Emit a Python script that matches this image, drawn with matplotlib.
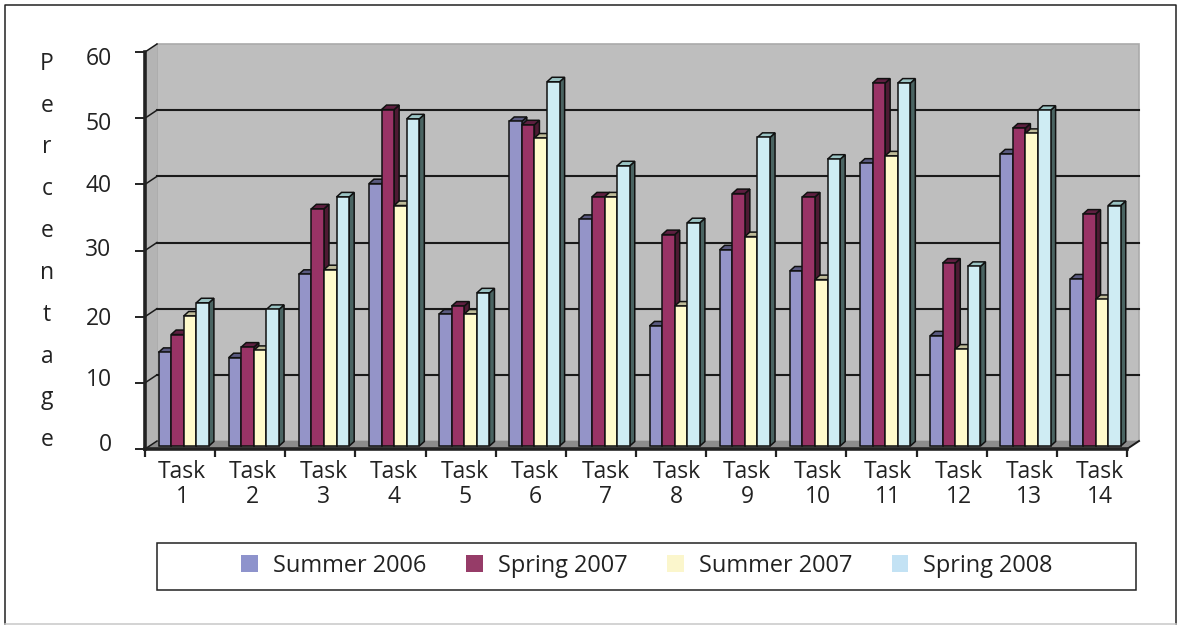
import matplotlib
matplotlib.use("Agg")
import matplotlib.pyplot as plt
from matplotlib.patches import Polygon, Rectangle, Patch
from matplotlib.transforms import ScaledTranslation
from matplotlib.lines import Line2D

W, H = 1178, 626
categories = [f"Task\n{i}" for i in range(1, 15)]
series_names = ["Summer 2006", "Spring 2007", "Summer 2007", "Spring 2008"]
summer_2006 = [14.6, 13.8, 26.4, 40.1, 20.4, 49.5, 34.7, 18.6, 30.1, 26.9, 43.2, 17.1, 44.6, 25.7]
spring_2007 = [17.3, 15.4, 36.3, 51.3, 21.6, 49.0, 38.1, 32.4, 38.6, 38.1, 55.3, 28.1, 48.5, 35.5]
summer_2007 = [20.1, 14.9, 27.1, 36.8, 20.4, 47.0, 38.1, 21.6, 32.1, 25.6, 44.3, 15.1, 47.7, 22.6]
spring_2008 = [22.1, 21.1, 38.1, 49.9, 23.6, 55.5, 42.8, 34.2, 47.1, 43.8, 55.3, 27.6, 51.2, 36.8]
series = [summer_2006, spring_2007, summer_2007, spring_2008]
fronts = ["#9494C8", "#993366", "#FFFBCC", "#CFECF3"]
sides = ["#4A4A64", "#4D1A33", "#807E66", "#4A6462"]
tops = ["#5A5A80", "#5E1F40", "#BFBC99", "#9BC4C4"]
legend_colors = ["#8E93CC", "#963C68", "#FBF6CC", "#C3E2F4"]
y_letters = "P\ne\nr\nc\ne\nn\nt\na\ng\ne"
ytick_lift = [7, 6, 1, 3, 1, -3, -4]

plt.rcParams["font.family"] = ["Open Sans", "DejaVu Sans"]
fig = plt.figure(figsize=(W / 100, H / 100), dpi=100)
fig.patch.set_facecolor("white")

def fig_line(xs, ys, color, lw):
    fig.add_artist(Line2D([x / W for x in xs], [1 - y / H for y in ys],
                          transform=fig.transFigure, color=color, lw=lw))

fig_line([5, 5, 1176, 1176], [624, 5, 5, 624], "#222222", 1.1)
fig_line([5, 1176], [624, 624], "#C8C8C8", 1.1)

x0, x1, y0, y1 = 145, 1127, 449, 52
ax = fig.add_axes([x0 / W, 1 - y0 / H, (x1 - x0) / W, (y0 - y1) / H])
ax.set_xlim(0, 14)
ax.set_ylim(0, 60)
ax.patch.set_visible(False)
for s in ("top", "right"):
    ax.spines[s].set_visible(False)
for s in ("left", "bottom"):
    ax.spines[s].set_linewidth(2.6)
    ax.spines[s].set_color("#222222")

px = (x1 - x0) / 14
py = (y0 - y1) / 60
DX, DY = 12 / px, 8 / py          # depth of the chart box

def poly(points, **kw):
    kw.setdefault("lw", 0)
    ax.add_patch(Polygon(points, closed=True, clip_on=False, **kw))

# walls and floor
poly([(DX, DY), (14 + DX, DY), (14 + DX, 60 + DY), (DX, 60 + DY)], fc="#BEBEBE", zorder=1,
     ec="#AAAAAA", lw=1.2)
poly([(0, 0), (DX, DY), (DX, 60 + DY), (0, 60)], fc="#B4B4B4", zorder=1)
poly([(0, 0), (14, 0), (14 + DX, DY), (DX, DY)], fc="#8C8C8C", zorder=1)
for v in range(10, 60, 10):
    ax.plot([DX, 14 + DX], [v + DY, v + DY], color="#1A1A1A", lw=1.5, zorder=2, clip_on=False)
for v in range(0, 70, 10):
    ax.plot([0, DX], [v, v + DY], color="#1A1A1A", lw=1.1, zorder=2, clip_on=False)
ax.plot([14, 14 + DX], [0, DY], color="#1A1A1A", lw=1.4, zorder=2, clip_on=False)

# bars
bw = 12.6 / px
start = 13.5 / px
bdx, bdy = 5 / px, 4.5 / py
bot = 3 / py
for i in range(len(categories)):
    for j, vals in enumerate(series):
        left = i + start + j * bw
        right = left + bw
        top = vals[i]
        z = 3 + i + j * 0.1
        style = dict(ec="#111111", lw=1.1, zorder=z)
        poly([(right, bot), (right + bdx, bot + bdy), (right + bdx, top + bdy), (right, top)],
             fc=sides[j], **style)
        poly([(left, top), (right, top), (right + bdx, top + bdy), (left + bdx, top + bdy)],
             fc=tops[j], **style)
        poly([(left, bot), (right, bot), (right, top), (left, top)], fc=fronts[j], **style)

ax.set_yticks(range(0, 70, 10))
ax.set_xticks(range(15))
ax.set_xticklabels([])
ax.set_xticks([0.53 + i * 1.0066 for i in range(14)], minor=True)
ax.set_xticklabels(categories, minor=True, linespacing=1.03)
ax.tick_params(axis="x", which="major", length=6, width=1.6, color="#222222")
ax.tick_params(axis="x", which="minor", length=0, pad=8, labelsize=16.5, labelcolor="#222222")
ax.tick_params(axis="y", length=7, width=1.4, color="#222222", labelsize=16.5,
               labelcolor="#222222", pad=17)
for lab, lift in zip(ax.get_yticklabels(), ytick_lift):
    lab.set_transform(lab.get_transform() + ScaledTranslation(0, lift / 100, fig.dpi_scale_trans))

fig.text(47 / W, 1 - 252 / H, y_letters, ha="center", va="center", fontsize=16.5,
         color="#222222", linespacing=1.99)

# legend
handles = [Patch(fc=c, ec="none") for c in legend_colors]
fig.add_artist(Rectangle((157 / W, 1 - 590 / H), 979 / W, 47 / H, transform=fig.transFigure,
                         fill=False, ec="#222222", lw=1.1))
fig.legend(handles, series_names, loc="center", bbox_to_anchor=(647 / W, 1 - 566 / H),
           ncol=4, frameon=False, fontsize=16.9, handlelength=0.72, handleheight=0.72,
           handletextpad=0.64, columnspacing=1.68, labelcolor="#222222")

fig.savefig("out.png", dpi=100)
